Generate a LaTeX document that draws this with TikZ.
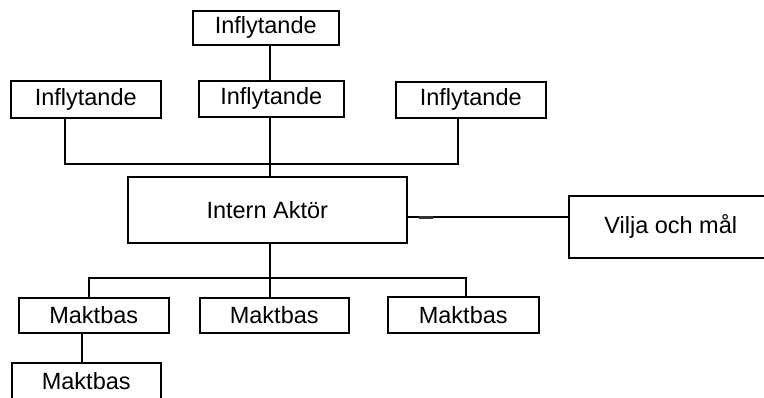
\documentclass[tikz,border=0pt]{standalone}
\usepackage{fontspec}
\setmainfont{Liberation Sans}
\begin{document}
\begin{tikzpicture}[x=1pt,y=-1pt,
  box/.style={draw, line width=1.5pt, inner sep=0pt, anchor=north west,
    font=\fontsize{23.5}{27}\selectfont},
  conn/.style={line width=1.5pt}]
\useasboundingbox (0,0) rectangle (764,397);
% boxes
\node[box, minimum width=146pt, minimum height=34pt] (t) at (192,10) {Inflytande};
\node[box, minimum width=150pt, minimum height=37pt] (i1) at (10,80) {Inflytande};
\node[box, minimum width=145pt, minimum height=36pt] (i2) at (198,80) {Inflytande};
\node[box, minimum width=150pt, minimum height=36pt] (i3) at (395,81) {Inflytande};
\node[box, minimum width=279pt, minimum height=66pt] (ia) at (127,176) {Intern Aktör};
\node[box, minimum width=204pt, minimum height=62pt] (v) at (568,195) {Vilja och mål};
\node[box, minimum width=150pt, minimum height=35pt] (m1) at (18,297) {Maktbas};
\node[box, minimum width=149pt, minimum height=35pt] (m2) at (199,297) {Maktbas};
\node[box, minimum width=151pt, minimum height=36pt] (m3) at (387,296) {Maktbas};
\node[box, minimum width=149pt, minimum height=37pt] (m4) at (11,362) {Maktbas};
% line positions
\coordinate (xa) at (65,0);
\coordinate (xc) at (270,0);
\coordinate (xb) at (458,0);
\coordinate (busT) at (0,164);
\coordinate (xm1) at (89,0);
\coordinate (xm3) at (466,0);
\coordinate (busB) at (0,278);
\coordinate (xm4) at (82,0);
\coordinate (yv) at (0,217);
\coordinate (d1) at (419,217);
\coordinate (d2) at (433,217);
% top
\draw[conn] (t.south -| xc) -- (i2.north -| xc);
\draw[conn] (i1.south -| xa) -- (xa |- busT) -- (xb |- busT) -- (i3.south -| xb);
\draw[conn] (i2.south -| xc) -- (ia.north -| xc);
% right
\draw[conn] (ia.east |- yv) -- (v.west |- yv);
\draw[line width=3pt, black!80] (d1) -- (d2);
% bottom
\draw[conn] (ia.south -| xc) -- (m2.north -| xc);
\draw[conn] (m1.north -| xm1) -- (xm1 |- busB) -- (xm3 |- busB) -- (m3.north -| xm3);
\draw[conn] (m1.south -| xm4) -- (m4.north -| xm4);
\end{tikzpicture}
\end{document}
